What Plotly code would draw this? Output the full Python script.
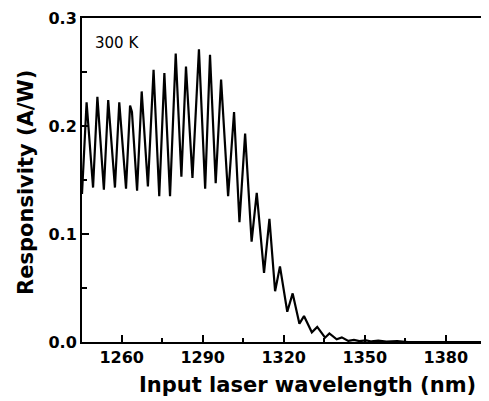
import plotly.graph_objects as go

# (peaks and troughs of the fringe pattern)
wavelength_nm = [1245.3, 1247.0, 1249.4, 1251.0, 1253.4, 1255.0, 1257.5, 1259.1, 1261.6, 1263.1,
                 1263.8, 1265.7, 1267.4, 1269.7, 1271.8, 1273.9, 1275.8, 1277.9, 1280.0, 1282.1,
                 1283.8, 1286.2, 1288.6, 1290.9, 1292.7, 1294.8, 1296.8, 1299.4, 1301.6, 1303.6,
                 1305.7, 1308.1, 1310.0, 1312.7, 1314.7, 1316.8, 1318.6, 1321.3, 1323.3, 1325.8,
                 1327.5, 1330.4, 1332.4, 1335.3, 1336.9, 1339.6, 1341.5, 1343.9, 1346.0, 1348.0,
                 1350.5, 1352.5, 1355.0, 1358.0, 1362.0, 1366.0, 1396.0]
responsivity_AW = [0.137, 0.222, 0.143, 0.227, 0.141, 0.224, 0.143, 0.222, 0.142, 0.219,
                   0.213, 0.140, 0.232, 0.144, 0.252, 0.135, 0.249, 0.135, 0.267, 0.153,
                   0.255, 0.152, 0.271, 0.142, 0.266, 0.147, 0.243, 0.135, 0.213, 0.111,
                   0.193, 0.093, 0.138, 0.064, 0.114, 0.047, 0.070, 0.028, 0.045, 0.017,
                   0.024, 0.009, 0.014, 0.004, 0.008, 0.0025, 0.0043, 0.001, 0.002, 0.0008,
                   0.0015, 0.0005, 0.0012, 0.0003, 0.0008, 0.0, 0.0]

x_ticks = [1260, 1290, 1320, 1350, 1380]
y_ticks = [0.0, 0.1, 0.2, 0.3]
y_tick_labels = ["0.0", "0.1", "0.2", "0.3"]

fig = go.Figure()
fig.add_trace(go.Scatter(x=wavelength_nm, y=responsivity_AW, mode="lines",
                         line=dict(color="black", width=2.2), showlegend=False))

# The page body has an 8px margin, so the figure is 8px smaller and margins shifted.
fig.update_layout(
    width=481, height=393,
    margin=dict(l=74, r=0, t=10, b=59, autoexpand=False),
    plot_bgcolor="white", paper_bgcolor="white",
    xaxis=dict(range=[1245.3, 1396], tickvals=x_ticks, ticks="inside", ticklen=7,
               tickwidth=1.5, tickcolor="black", showline=True, linecolor="black",
               linewidth=2, mirror=True, showgrid=False, zeroline=False,
               tickfont=dict(family="DejaVu Sans", size=16, color="black", weight="bold"),
               minor=dict(ticks="inside", ticklen=4, dtick=15, tick0=1260,
                          tickcolor="black", tickwidth=1.5, showgrid=False)),
    yaxis=dict(range=[0, 0.3], tickvals=y_ticks, ticktext=y_tick_labels, ticks="inside",
               ticklen=7, tickwidth=1.5, tickcolor="black", showline=True,
               linecolor="black", linewidth=2, mirror=False, showgrid=False,
               zeroline=False,
               tickfont=dict(family="DejaVu Sans", size=16, color="black", weight="bold"),
               minor=dict(ticks="inside", ticklen=5, dtick=0.05, tick0=0,
                          tickcolor="black", tickwidth=1.5, showgrid=False)),
    annotations=[
        dict(text="Input laser wavelength (nm)", xref="paper", yref="paper",
             x=0.553, y=-0.133, xanchor="center", yanchor="middle", showarrow=False,
             font=dict(family="DejaVu Sans", size=21, color="black", weight="bold")),
        dict(text="Responsivity (A/W)", xref="paper", yref="paper",
             x=-0.1376, y=0.494, xanchor="center", yanchor="middle", showarrow=False,
             textangle=-90,
             font=dict(family="DejaVu Sans", size=21, color="black", weight="bold")),
        dict(text="300 K", xref="paper", yref="paper", x=0.027, y=0.923,
             xanchor="left", yanchor="middle", showarrow=False,
             font=dict(family="DejaVu Sans", size=15, color="black")),
    ],
)

fig.write_html("out.html")
